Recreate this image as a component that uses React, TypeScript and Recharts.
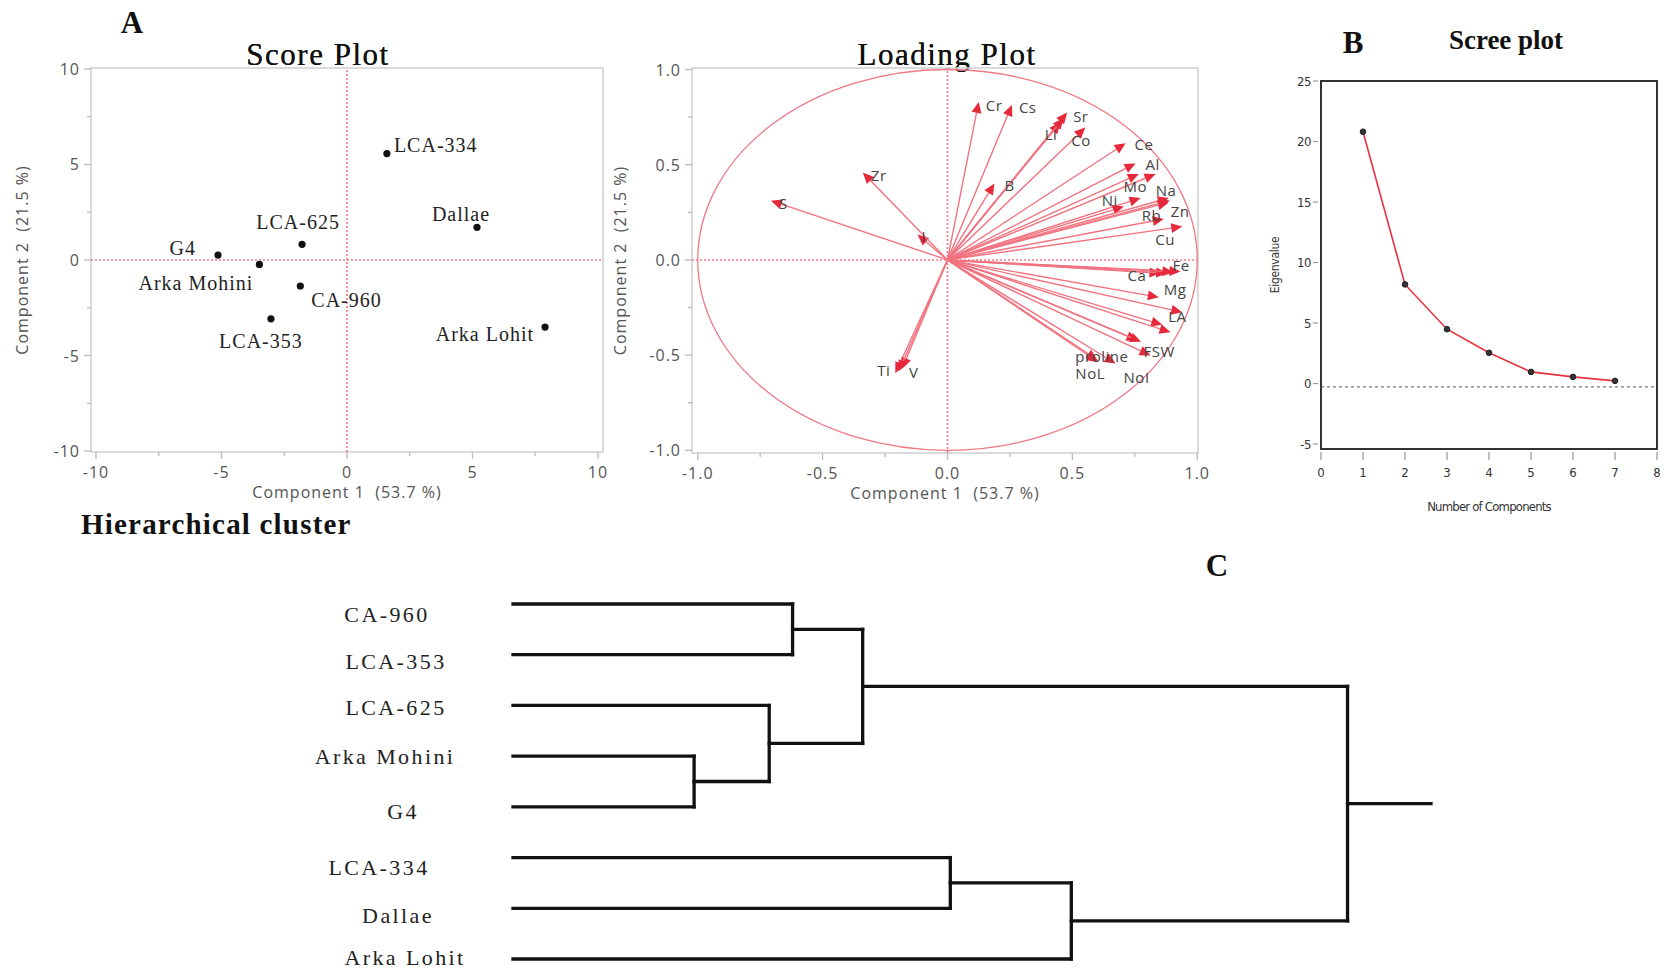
import React from "react";
import {
  ScatterChart,
  Scatter,
  LineChart,
  Line,
  XAxis,
  YAxis,
  ReferenceLine,
  ReferenceArea,
  Label,
} from "recharts";

const SERIF = '"Liberation Serif", "Times New Roman", serif';
const SANS = '"Open Sans", "DejaVu Sans", sans-serif';
const NARROW = '"DejaVu Sans Condensed", "DejaVu Sans", sans-serif';

// ---- A: score plot
const genotypes = ["LCA-334", "Dallae", "LCA-625", "G4", "Arka Mohini", "CA-960", "LCA-353", "Arka Lohit"];
const pc1Scores = [1.59, 5.18, -1.79, -5.14, -3.49, -1.86, -3.03, 7.89];
const pc2Scores = [5.57, 1.71, 0.82, 0.26, -0.23, -1.36, -3.08, -3.51];
const scoreTicks = [-10, -7.5, -5, -2.5, 0, 2.5, 5, 7.5, 10];

// where each genotype name sits next to its point: [dx, dy, anchor]
const scoreLabelPos: Record<string, [number, number, string]> = {
  "LCA-334": [7, -9, "start"],
  Dallae: [-16, -13, "middle"],
  "LCA-625": [-4, -22, "middle"],
  G4: [-22, -7, "end"],
  "Arka Mohini": [-6, 19, "end"],
  "CA-960": [11, 14, "start"],
  "LCA-353": [-10, 22, "middle"],
  "Arka Lohit": [-11, 7, "end"],
};

// ---- A: loading plot (empty name = unlabelled vector)
const loadingVars = [
  "Cr", "Cs", "Sr", "Li", "", "Co", "Ce", "Al", "", "", "B", "Mo", "Ni", "Na", "Zn", "", "Rb", "Cu",
  "Fe", "Ca", "", "", "Mg", "LA", "", "", "", "", "FSW", "proline", "NoL", "NoI", "Ti", "V", "", "I", "Zr", "S",
];
const loading1 = [
  0.125, 0.258, 0.479, 0.452, 0.465, 0.552, 0.713, 0.753, 0.766, 0.833, 0.188, 0.773, 0.706, 0.886, 0.886, 0.89, 0.866, 0.94,
  0.933, 0.853, 0.88, 0.905, 0.846, 0.94, 0.86, 0.893, 0.761, 0.775, 0.813, 0.6, 0.604, 0.673, -0.209, -0.182, -0.195, -0.12, -0.339, -0.707,
];
const loading2 = [
  0.83, 0.814, 0.774, 0.722, 0.745, 0.695, 0.613, 0.507, 0.451, 0.451, 0.402, 0.325, 0.28, 0.325, 0.302, 0.312, 0.215, 0.175,
  -0.061, -0.07, -0.07, -0.063, -0.196, -0.275, -0.341, -0.38, -0.423, -0.43, -0.502, -0.525, -0.537, -0.544, -0.595, -0.572, -0.585, 0.133, 0.459, 0.311,
];
const loadingTicks = [-1, -0.75, -0.5, -0.25, 0, 0.25, 0.5, 0.75, 1];

const loadingLabelPos: Record<string, [number, number, string]> = {
  Cr: [7, 3, "start"], Cs: [7, 2, "start"], Sr: [6, 3, "start"], Li: [-3, 12, "end"],
  Co: [-14, 12, "start"], Ce: [9, 1, "start"], Al: [10, 1, "start"], B: [10, 2, "start"],
  Mo: [-17, -12, "start"], Ni: [-6, -7, "end"], Na: [-13, -8, "start"], Zn: [2, 9, "start"],
  Rb: [-22, -4, "start"], Cu: [-27, 12, "start"], Fe: [-8, -7, "start"], Ca: [-33, 2, "start"],
  Mg: [5, -8, "start"], LA: [-14, 4, "start"], FSW: [-7, -5, "start"], proline: [-22, -4, "start"],
  NoL: [-23, 11, "start"], NoI: [8, 13, "start"], Ti: [-5, -3, "end"], V: [7, 3, "start"],
  I: [4, 1, "start"], Zr: [8, 2, "start"], S: [8, 2, "start"],
};

// ---- B: scree plot
const components = [1, 2, 3, 4, 5, 6, 7];
const eigenvalues = [20.81, 8.19, 4.49, 2.54, 0.96, 0.55, 0.22];
const screeXTicks = [0, 1, 2, 3, 4, 5, 6, 7, 8];
const screeYTicks = [-5, 0, 5, 10, 15, 20, 25];

// ---- C: hierarchical cluster (leaves top to bottom, merges refer to leaf ids 0-7 then merge ids 8+)
const leaves = ["CA-960", "LCA-353", "LCA-625", "Arka Mohini", "G4", "LCA-334", "Dallae", "Arka Lohit"];
const mergeLeft = [0, 3, 2, 8, 5, 12, 11];
const mergeRight = [1, 4, 9, 10, 6, 7, 13];
const mergeHeight = [3.35, 2.17, 3.07, 4.19, 5.24, 6.69, 10.0];
const rootStemEnd = 11.0;

const leafLabelShift = [[-126, 10], [-117, 7], [-117, 2], [-128, 0], [-110, 5], [-134, 10], [-115, 7], [-108, -2]];

const scoreData = genotypes.map((g, i) => ({ x: pc1Scores[i], y: pc2Scores[i], name: g }));
const loadingLabelData = loadingVars
  .map((v, i) => ({ x: loading1[i], y: loading2[i], name: v }))
  .filter((d) => d.name !== "");
const screeData = components.map((c, i) => ({ comp: c, eig: eigenvalues[i] }));

// dendrogram node positions and elbow segments
const nodePos: { x: number; y: number }[] = leaves.map((_, i) => ({ x: 0, y: i }));
const dendroSegments: { x: number; y: number }[][] = [];
mergeHeight.forEach((h, k) => {
  const a = nodePos[mergeLeft[k]];
  const b = nodePos[mergeRight[k]];
  dendroSegments.push([{ x: a.x, y: a.y }, { x: h, y: a.y }]);
  dendroSegments.push([{ x: b.x, y: b.y }, { x: h, y: b.y }]);
  dendroSegments.push([{ x: h, y: a.y }, { x: h, y: b.y }]);
  nodePos.push({ x: h, y: (a.y + b.y) / 2 });
});
const rootNode = nodePos[nodePos.length - 1];
dendroSegments.push([{ x: rootNode.x, y: rootNode.y }, { x: rootStemEnd, y: rootNode.y }]);
const leafData = leaves.map((l, i) => ({ x: 0, y: i, name: l }));

const tickText = { fontFamily: SANS, fontSize: 16, fill: "#555", letterSpacing: 1 };

const BottomTick = (props: any) => {
  const { x, y, payload, isMajor, fmt } = props;
  const major = isMajor(payload.value);
  return (
    <g>
      <line x1={x} x2={x} y1={y} y2={y + (major ? 7 : 4)} stroke="#bbb" strokeWidth={1.3} />
      {major && (
        <text x={x} y={y + 20} textAnchor="middle" dominantBaseline="central" style={tickText}>
          {fmt(payload.value)}
        </text>
      )}
    </g>
  );
};

const LeftTick = (props: any) => {
  const { x, y, payload, isMajor, fmt } = props;
  const major = isMajor(payload.value);
  return (
    <g>
      <line x1={x} x2={x - (major ? 7 : 4)} y1={y} y2={y} stroke="#bbb" strokeWidth={1.3} />
      {major && (
        <text x={x - 11} y={y} textAnchor="end" dominantBaseline="central" style={tickText}>
          {fmt(payload.value)}
        </text>
      )}
    </g>
  );
};

const xTitle = (text: string, dy: number, style: any) => (p: any) => {
  const vb = p.viewBox || { x: 0, y: 0, width: 0, height: 0 };
  return (
    <text x={vb.x + vb.width / 2} y={vb.y + dy} textAnchor="middle" dominantBaseline="central" style={{ ...style, whiteSpace: "pre" }}>
      {text}
    </text>
  );
};

const yTitle = (text: string, cx: number, style: any) => (p: any) => {
  const vb = p.viewBox || { x: 0, y: 0, width: 0, height: 0 };
  const cy = vb.y + vb.height / 2;
  return (
    <text x={cx} y={cy} transform={`rotate(-90 ${cx} ${cy})`} textAnchor="middle" dominantBaseline="central" style={{ ...style, whiteSpace: "pre" }}>
      {text}
    </text>
  );
};

const axisTitleStyle = { fontFamily: SANS, fontSize: 16, fill: "#555", letterSpacing: 1 };

const frameShape = (stroke: string, width: number) => (p: any) => (
  <rect x={p.x} y={p.y} width={p.width} height={p.height} fill="none" stroke={stroke} strokeWidth={width} />
);

const ellipseShape = (p: any) => (
  <ellipse cx={p.x + p.width / 2} cy={p.y + p.height / 2} rx={p.width / 2} ry={p.height / 2} fill="none" stroke="#f07884" strokeWidth={1.3} />
);

const arrowShape = (p: any) => {
  const { x1, y1, x2, y2 } = p;
  const ang = Math.atan2(y2 - y1, x2 - x1);
  const len = 11;
  const half = 5;
  const bx = x2 - len * Math.cos(ang);
  const by = y2 - len * Math.sin(ang);
  const nx = -Math.sin(ang) * half;
  const ny = Math.cos(ang) * half;
  return (
    <g>
      <line x1={x1} y1={y1} x2={bx} y2={by} stroke="#f2727f" strokeWidth={1.4} />
      <polygon points={`${x2},${y2} ${bx + nx},${by + ny} ${bx - nx},${by - ny}`} fill="#e6283b" />
    </g>
  );
};

const scorePoint = (p: any) => {
  const [dx, dy, anchor] = scoreLabelPos[p.payload.name];
  return (
    <g>
      <circle cx={p.cx} cy={p.cy} r={3.6} fill="#111" />
      <text
        x={p.cx + dx}
        y={p.cy + dy}
        textAnchor={anchor}
        dominantBaseline="central"
        style={{ fontFamily: SERIF, fontSize: 20, fill: "#222", letterSpacing: 1 }}
      >
        {p.payload.name}
      </text>
    </g>
  );
};

const loadingLabel = (p: any) => {
  const [dx, dy, anchor] = loadingLabelPos[p.payload.name];
  return (
    <text
      x={p.cx + dx}
      y={p.cy + dy}
      textAnchor={anchor}
      dominantBaseline="central"
      style={{ fontFamily: SANS, fontSize: 15, fill: "#444", letterSpacing: 0.5 }}
    >
      {p.payload.name}
    </text>
  );
};

const leafLabel = (p: any) => {
  const i = p.payload.y;
  const [dx, dy] = leafLabelShift[i];
  return (
    <text
      x={p.cx + dx}
      y={p.cy + dy}
      textAnchor="middle"
      dominantBaseline="central"
      style={{ fontFamily: SERIF, fontSize: 22, fill: "#222", letterSpacing: 2.4 }}
    >
      {p.payload.name}
    </text>
  );
};

const ScreeBottomTick = (props: any) => {
  const { x, y, payload } = props;
  return (
    <g>
      <line x1={x} x2={x} y1={y + 3} y2={y + 11} stroke="#999" strokeWidth={1.2} />
      <text x={x} y={y + 23} textAnchor="middle" dominantBaseline="central" style={{ fontFamily: NARROW, fontSize: 13, fill: "#333" }}>
        {payload.value}
      </text>
    </g>
  );
};

const ScreeLeftTick = (props: any) => {
  const { x, y, payload } = props;
  return (
    <g>
      <line x1={x - 8} x2={x - 3} y1={y} y2={y} stroke="#999" strokeWidth={1.2} />
      <text x={x - 10} y={y} textAnchor="end" dominantBaseline="central" style={{ fontFamily: NARROW, fontSize: 13, fill: "#333", letterSpacing: -0.5 }}>
        {payload.value}
      </text>
    </g>
  );
};

const isScoreMajor = (v: number) => v % 5 === 0;
const isLoadingMajor = (v: number) => Math.abs(v * 2 - Math.round(v * 2)) < 1e-6;

const centered = (cx: number, cy: number, style: any): React.CSSProperties => ({
  position: "absolute",
  left: cx,
  top: cy,
  transform: "translate(-50%, -50%)",
  whiteSpace: "nowrap",
  lineHeight: 1,
  color: "#111",
  ...style,
});

export default function App() {
  return (
    <div style={{ position: "absolute", left: 0, top: 0, width: 1664, height: 971, background: "#fff", overflow: "hidden" }}>
      <div style={centered(132, 22, { fontFamily: SERIF, fontSize: 31, fontWeight: "bold" })}>A</div>
      <div style={centered(318, 54, { fontFamily: SERIF, fontSize: 31, letterSpacing: 1.5, fontWeight: 500, textShadow: "0 0 0.6px #111" })}>Score Plot</div>
      <div style={centered(947, 54, { fontFamily: SERIF, fontSize: 31, letterSpacing: 1.5, fontWeight: 500, textShadow: "0 0 0.6px #111" })}>Loading Plot</div>
      <div style={centered(1353, 42, { fontFamily: SERIF, fontSize: 31, fontWeight: "bold" })}>B</div>
      <div style={centered(1506, 40, { fontFamily: SERIF, fontSize: 27, fontWeight: "bold" })}>Scree plot</div>
      <div style={{ position: "absolute", left: 81, top: 510, lineHeight: 1, fontFamily: SERIF, fontSize: 29, fontWeight: "bold", letterSpacing: 1.2, color: "#111", whiteSpace: "nowrap" }}>
        Hierarchical cluster
      </div>
      <div style={centered(1217, 565, { fontFamily: SERIF, fontSize: 31, fontWeight: "bold" })}>C</div>

      {/* Score plot */}
      <div style={{ position: "absolute", left: 0, top: 0 }}>
        <ScatterChart width={620} height={512} margin={{ top: 68, right: 17, bottom: 0, left: 0 }}>
          <XAxis
            type="number"
            dataKey="x"
            domain={[-10.2, 10.2]}
            ticks={scoreTicks}
            interval={0}
            axisLine={false}
            tickLine={false}
            tickSize={0}
            tickMargin={0}
            height={60}
            allowDataOverflow
            tick={<BottomTick isMajor={isScoreMajor} fmt={(v: number) => String(v)} />}
          >
            <Label content={xTitle("Component 1  (53.7 %)", 40, axisTitleStyle)} />
          </XAxis>
          <YAxis
            type="number"
            dataKey="y"
            domain={[-10.05, 10.05]}
            ticks={scoreTicks}
            interval={0}
            axisLine={false}
            tickLine={false}
            tickSize={0}
            tickMargin={0}
            width={91}
            allowDataOverflow
            tick={<LeftTick isMajor={isScoreMajor} fmt={(v: number) => String(v)} />}
          >
            <Label content={yTitle("Component 2  (21.5 %)", 22, axisTitleStyle)} />
          </YAxis>
          <ReferenceArea x1={-10.2} x2={10.2} y1={-10.05} y2={10.05} ifOverflow="visible" shape={frameShape("#d2d2d2", 1.6)} />
          <ReferenceLine x={0} stroke="#f27a88" strokeWidth={1.6} strokeDasharray="2 2" />
          <ReferenceLine y={0} stroke="#f27a88" strokeWidth={1.6} strokeDasharray="2 2" />
          <Scatter data={scoreData} shape={scorePoint} isAnimationActive={false} />
        </ScatterChart>
      </div>

      {/* Loading plot */}
      <div style={{ position: "absolute", left: 600, top: 0 }}>
        <ScatterChart width={620} height={512} margin={{ top: 68, right: 22, bottom: 0, left: 0 }}>
          <XAxis
            type="number"
            dataKey="x"
            domain={[-1.023, 1.003]}
            ticks={loadingTicks}
            interval={0}
            axisLine={false}
            tickLine={false}
            tickSize={0}
            tickMargin={0}
            height={59}
            allowDataOverflow
            tick={<BottomTick isMajor={isLoadingMajor} fmt={(v: number) => v.toFixed(1)} />}
          >
            <Label content={xTitle("Component 1  (53.7 %)", 40, axisTitleStyle)} />
          </XAxis>
          <YAxis
            type="number"
            dataKey="y"
            domain={[-1.014, 1.008]}
            ticks={loadingTicks}
            interval={0}
            axisLine={false}
            tickLine={false}
            tickSize={0}
            tickMargin={0}
            width={92}
            allowDataOverflow
            tick={<LeftTick isMajor={isLoadingMajor} fmt={(v: number) => v.toFixed(1)} />}
          >
            <Label content={yTitle("Component 2  (21.5 %)", 20, axisTitleStyle)} />
          </YAxis>
          <ReferenceArea x1={-1.023} x2={1.003} y1={-1.014} y2={1.008} ifOverflow="visible" shape={frameShape("#d2d2d2", 1.6)} />
          <ReferenceArea x1={-1} x2={1} y1={-1} y2={1} ifOverflow="visible" shape={ellipseShape} />
          <ReferenceLine x={0} stroke="#f27a88" strokeWidth={1.6} strokeDasharray="2 2" />
          <ReferenceLine y={0} stroke="#f27a88" strokeWidth={1.6} strokeDasharray="2 2" />
          {loadingVars.map((v, i) => (
            <ReferenceLine
              key={`vec-${i}`}
              segment={[{ x: 0, y: 0 }, { x: loading1[i], y: loading2[i] }]}
              ifOverflow="visible"
              shape={arrowShape}
            />
          ))}
          <Scatter data={loadingLabelData} shape={loadingLabel} isAnimationActive={false} />
        </ScatterChart>
      </div>

      {/* Scree plot */}
      <div style={{ position: "absolute", left: 1230, top: 0 }}>
        <LineChart width={434} height={520} data={screeData} margin={{ top: 81, right: 7, bottom: 0, left: 0 }}>
          <XAxis
            type="number"
            dataKey="comp"
            domain={[0, 8]}
            ticks={screeXTicks}
            interval={0}
            axisLine={false}
            tickLine={false}
            tickSize={0}
            tickMargin={0}
            height={71}
            tick={<ScreeBottomTick />}
          >
            <Label content={xTitle("Number of Components", 57, { fontFamily: NARROW, fontSize: 13, fill: "#333", letterSpacing: -0.8 })} />
          </XAxis>
          <YAxis
            type="number"
            domain={[-5.41, 25]}
            ticks={screeYTicks}
            interval={0}
            axisLine={false}
            tickLine={false}
            tickSize={0}
            tickMargin={0}
            width={91}
            allowDataOverflow
            tick={<ScreeLeftTick />}
          >
            <Label content={yTitle("Eigenvalue", 45, { fontFamily: NARROW, fontSize: 12, fill: "#333", letterSpacing: -0.3 })} />
          </YAxis>
          <ReferenceArea x1={0} x2={8} y1={-5.41} y2={25} ifOverflow="visible" shape={frameShape("#333", 2)} />
          <ReferenceLine y={-0.28} stroke="#555" strokeWidth={1} strokeDasharray="3 3" />
          <Line
            type="linear"
            dataKey="eig"
            stroke="#e8323f"
            strokeWidth={1.6}
            dot={{ r: 2.8, fill: "#333", stroke: "#222", strokeWidth: 1 }}
            isAnimationActive={false}
          />
        </LineChart>
      </div>

      {/* Hierarchical cluster */}
      <div style={{ position: "absolute", left: 0, top: 540 }}>
        <ScatterChart width={1664} height={431} margin={{ top: 64, right: 233, bottom: 12, left: 513 }}>
          <XAxis type="number" dataKey="x" domain={[0, 11]} hide />
          <YAxis type="number" dataKey="y" domain={[0, 7]} reversed hide />
          {dendroSegments.map((s, i) => (
            <ReferenceLine key={`seg-${i}`} segment={s} stroke="#111" strokeWidth={3.3} strokeLinecap="square" ifOverflow="visible" />
          ))}
          <Scatter data={leafData} shape={leafLabel} isAnimationActive={false} />
        </ScatterChart>
      </div>
    </div>
  );
}
